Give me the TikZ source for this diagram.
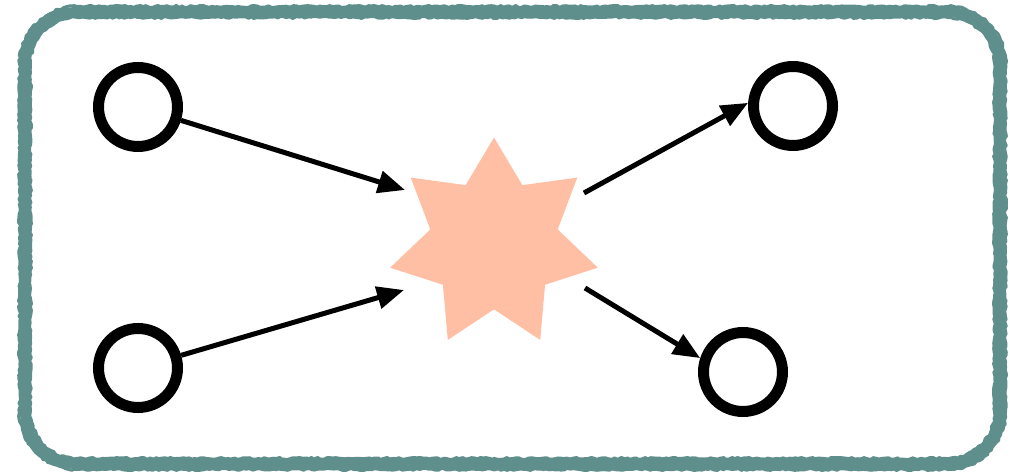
\documentclass[tikz,border=0pt]{standalone}
\usepackage{tikz}
\usetikzlibrary{arrows.meta,shapes.geometric,decorations.pathmorphing}
\definecolor{Teal}{HTML}{5F8F8C}
\definecolor{Peach}{HTML}{FFBFA5}
% rounded box path: x1, y1, x2, y2, corner radius
\newcommand{\framepath}[5]{(#1+#5,#2) -- (#3-#5,#2) arc[start angle=270,end angle=360,radius=#5]
  -- (#3,#4-#5) arc[start angle=0,end angle=90,radius=#5]
  -- (#1+#5,#4) arc[start angle=90,end angle=180,radius=#5]
  -- (#1,#2+#5) arc[start angle=180,end angle=270,radius=#5] -- cycle}

\begin{document}
\begin{tikzpicture}[
  x=1pt,y=-1pt,
  frame/.style={draw=Teal,line width=10pt,line join=round},
  rough/.style={draw=Teal,line width=3pt,line join=round,line cap=round,decorate,decoration={random steps,segment length=3pt,amplitude=1pt}},
  endpoint/.style={circle,draw=black,fill=white,line width=11pt,minimum size=79pt,inner sep=0pt},
  hub/.style={star,star points=7,star point ratio=1.63,minimum size=213pt,inner sep=0pt,fill=Peach},
  arrow/.style={-{Triangle[length=27pt,width=22pt]},line width=5pt,draw=black}
]
\pgfmathsetseed{7}
\useasboundingbox (0,0) rectangle (1010,473);
% rough frame
\draw[frame] \framepath{25}{12}{1000}{464}{52};
\draw[rough] \framepath{19.5}{6.5}{1005.5}{469.5}{57.5};
\draw[rough] \framepath{30.5}{17.5}{994.5}{458.5}{46.5};

\node[hub] (burst) at (494,244) {};
\node[endpoint] (inTop) at (138,107) {};
\node[endpoint] (inBot) at (138,368) {};
\node[endpoint] (outTop) at (793,106) {};
\node[endpoint] (outBot) at (743,372) {};

\coordinate (hitTop) at (405,190);
\coordinate (hitBot) at (404,290);
\coordinate (leaveTop) at (584,193);
\coordinate (leaveBot) at (585,288);

\draw[arrow] (inTop) -- (hitTop);
\draw[arrow] (inBot) -- (hitBot);
\draw[arrow] (leaveTop) -- (outTop.176);
\draw[arrow] (leaveBot) -- (outBot.162);
\end{tikzpicture}
\end{document}
